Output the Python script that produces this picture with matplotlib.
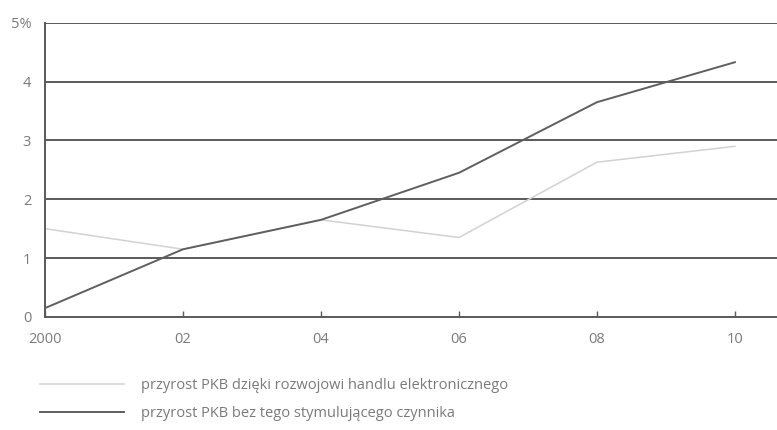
import matplotlib
matplotlib.use("Agg")
import matplotlib.pyplot as plt
from matplotlib.lines import Line2D

years = [2000, 2002, 2004, 2006, 2008, 2010]
year_labels = ["2000", "02", "04", "06", "08", "10"]
ecommerce = [1.5, 1.15, 1.65, 1.35, 2.63, 2.9]
baseline = [0.15, 1.15, 1.65, 2.45, 3.65, 4.33]
y_ticks = [0, 1, 2, 3, 4, 5]
y_labels = ["0", "1", "2", "3", "4", "5%"]
legend_labels = ["przyrost PKB dzięki rozwojowi handlu elektronicznego",
                 "przyrost PKB bez tego stymulującego czynnika"]

plt.rcParams["font.family"] = ["Open Sans", "DejaVu Sans"]
TXT = "#7a7a7a"
GRID = "#5a5a5a"

fig = plt.figure(figsize=(7.77, 4.3), dpi=100)
ax = fig.add_axes([0.058, 0.263, 0.942, 0.684])

for v in y_ticks[1:]:
    ax.axhline(v, color=GRID, linewidth=1.4, zorder=1)

ax.plot(years, ecommerce, color="#d2d2d2", linewidth=1.1, zorder=2)
ax.plot(years, baseline, color="#5f5f5f", linewidth=1.4, zorder=3)

ax.set_xlim(2000, 2010.61)
ax.set_ylim(0, 5)
ax.set_xticks(years)
ax.set_xticklabels(year_labels)
ax.set_yticks(y_ticks)
ax.set_yticklabels(y_labels)
ax.tick_params(axis="x", direction="in", length=4, width=1, color=GRID,
               labelsize=10.5, labelcolor=TXT, pad=11)
ax.tick_params(axis="y", length=0, labelsize=10.5, labelcolor=TXT, pad=10)
for s in ["top", "right"]:
    ax.spines[s].set_visible(False)
for s in ["left", "bottom"]:
    ax.spines[s].set_color(GRID)
    ax.spines[s].set_linewidth(1.4)

handles = [Line2D([], [], color="#d2d2d2", linewidth=1.1),
           Line2D([], [], color="#5f5f5f", linewidth=1.4)]
fig.legend(handles, legend_labels, loc="upper left", bbox_to_anchor=(0.052, 0.121),
           frameon=False, fontsize=10.5, labelcolor=TXT, handlelength=5.7,
           handletextpad=1.2, labelspacing=0.9, borderaxespad=0, borderpad=0)

fig.savefig("out.png", dpi=100, facecolor="white")
